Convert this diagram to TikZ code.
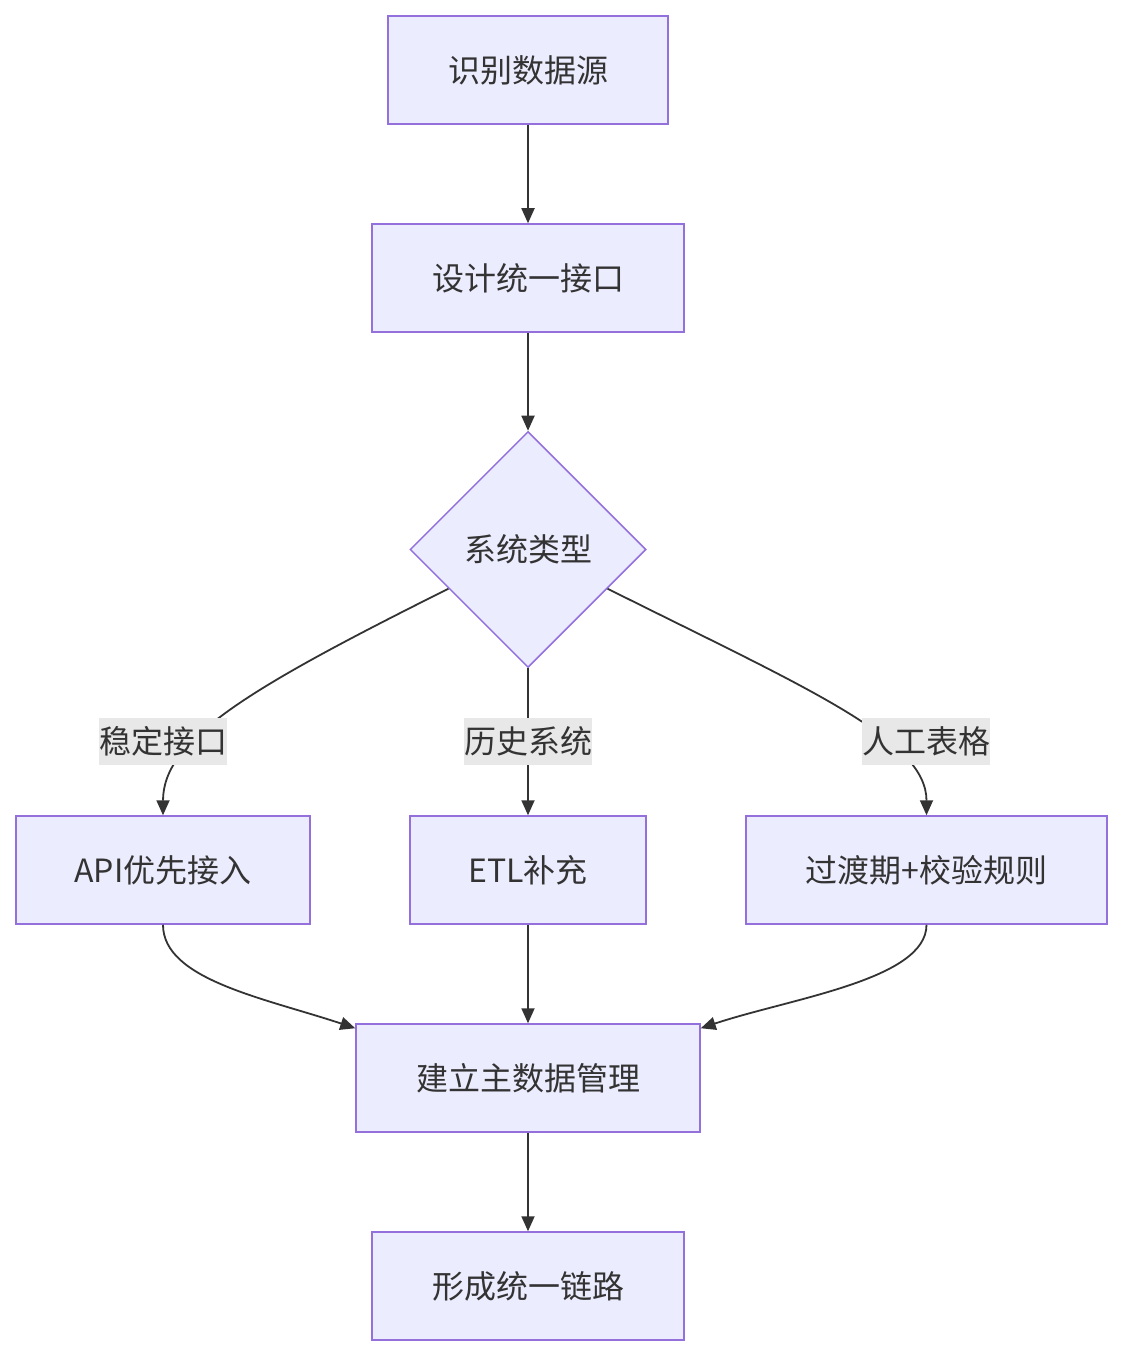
\documentclass[tikz,border=0pt]{standalone}
\usepackage{fontspec}
\setmainfont{Noto Sans CJK SC}
\usetikzlibrary{shapes.geometric,arrows.meta,calc}
\definecolor{boxfill}{HTML}{ECECFF}
\definecolor{boxline}{HTML}{9370DB}
\definecolor{edgecol}{HTML}{333333}
\definecolor{lblbg}{HTML}{E8E8E8}
\tikzset{
  box/.style={draw=boxline,fill=boxfill,line width=1.5pt,minimum height=108pt,inner sep=0pt,text=edgecol,font=\fontsize{32}{37}\selectfont},
  dia/.style={diamond,aspect=1,draw=boxline,fill=boxfill,line width=1.5pt,minimum width=236pt,minimum height=236pt,inner sep=0pt,text=edgecol,font=\fontsize{32}{37}\selectfont},
  lbl/.style={fill=lblbg,inner xsep=0pt,inner ysep=0pt,minimum height=47pt,text=edgecol,font=\fontsize{32}{37}\selectfont},
  conn/.style={draw=edgecol,line width=1.8pt,-{Triangle[length=15pt,width=13pt]}},
}
\begin{document}
\begin{tikzpicture}[x=1pt,y=-1pt]
\useasboundingbox (0,0) rectangle (1122,1356);
\node[box,minimum width=280pt] (a) at (528,70) {识别数据源};
\node[box,minimum width=312pt] (b) at (528,278) {设计统一接口};
\node[dia] (c) at (528,549.5) {系统类型};
\node[box,minimum width=294pt] (d) at (163,870) {API优先接入};
\node[box,minimum width=236pt] (e) at (528,870) {ETL补充};
\node[box,minimum width=361pt] (f) at (926.5,870) {过渡期+校验规则};
\node[box,minimum width=344pt] (g) at (528,1078) {建立主数据管理};
\node[box,minimum width=312pt] (h) at (528,1286) {形成统一链路};
\coordinate (cl) at ($(c.west)!0.33!(c.south)$);
\coordinate (cr) at ($(c.east)!0.33!(c.south)$);
\draw[conn] (a) -- (b);
\draw[conn] (b) -- (c);
\draw[conn] (cl) .. controls ($(cl)+(-200,100)$) and ($(d.north)+(0,-76)$) .. (d.north);
\draw[conn] (c) -- (e);
\draw[conn] (cr) .. controls ($(cr)+(200,100)$) and ($(f.north)+(0,-76)$) .. (f.north);
\draw[conn] (d.south) .. controls ($(d.south)+(0,55)$) and ($(g.north west)+(-90,-25)$) .. ($(g.north west)+(0,5)$);
\draw[conn] (e) -- (g);
\draw[conn] (f.south) .. controls ($(f.south)+(0,55)$) and ($(g.north east)+(90,-25)$) .. ($(g.north east)+(0,5)$);
\draw[conn] (g) -- (h);
\node[lbl] (l1) at (163,741.5) {稳定接口};
\node[lbl] (l2) at (528,741.5) {历史系统};
\node[lbl] (l3) at (926,741.5) {人工表格};
\end{tikzpicture}
\end{document}
